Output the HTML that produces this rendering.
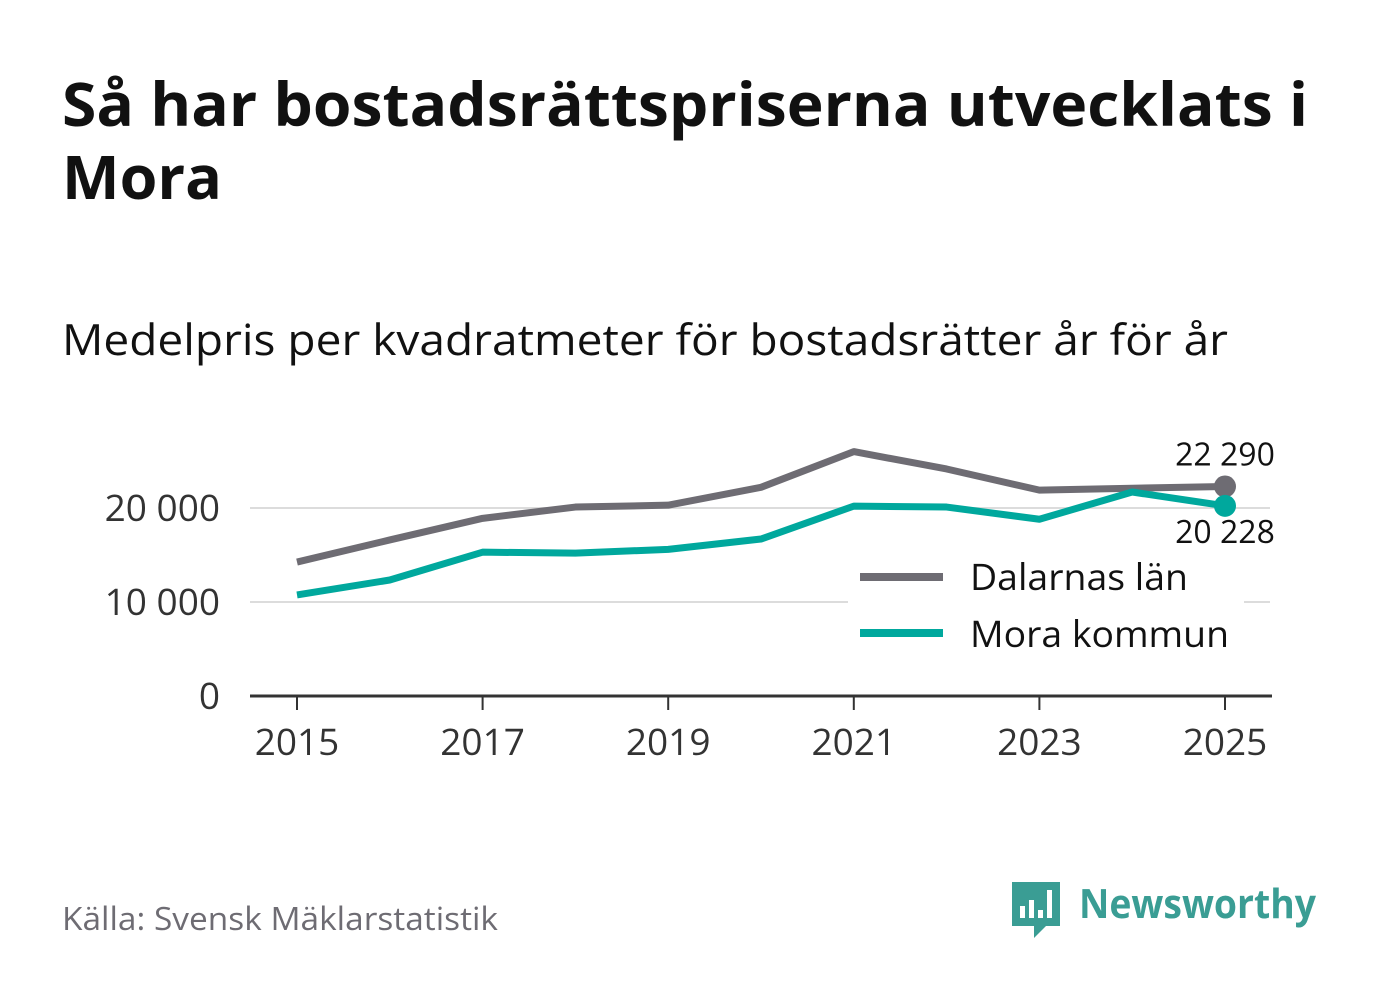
<!DOCTYPE html>
<html><head><meta charset="utf-8"><style>
body{margin:0;background:#fff;font-family:"Open Sans","DejaVu Sans","Liberation Sans",sans-serif;}
svg text{font-family:"Open Sans","DejaVu Sans","Liberation Sans",sans-serif;}
</style></head><body>
<svg width="1382" height="999" viewBox="0 0 1382 999">
<rect width="1382" height="999" fill="#fff"/>
<text x="62" y="126" font-size="60" font-weight="bold" fill="#111" textLength="1246" lengthAdjust="spacingAndGlyphs">Så har bostadsrättspriserna utvecklats i</text>
<text x="62" y="199" font-size="60" font-weight="bold" fill="#111" textLength="160" lengthAdjust="spacingAndGlyphs">Mora</text>
<text x="62" y="355" font-size="43" fill="#111" textLength="1166" lengthAdjust="spacingAndGlyphs">Medelpris per kvadratmeter för bostadsrätter år för år</text>
<g id="grid"></g>
<g id="lines"></g>
<g id="xaxis"></g>
<g>
<rect x="848" y="550" width="396" height="120" fill="#fff"/>
<line x1="860" y1="577" x2="943" y2="577" stroke="#6e6c73" stroke-width="8"/>
<text x="970" y="590" font-size="37" fill="#111" textLength="218" lengthAdjust="spacingAndGlyphs">Dalarnas län</text>
<line x1="860" y1="633" x2="943" y2="633" stroke="#00a89d" stroke-width="8"/>
<text x="970" y="647" font-size="37" fill="#111" textLength="259" lengthAdjust="spacingAndGlyphs">Mora kommun</text>
</g>
<text x="62" y="930" font-size="32" fill="#6e6c73" textLength="436" lengthAdjust="spacingAndGlyphs">Källa: Svensk Mäklarstatistik</text>
<g>
<path d="M1012 882 h48 v44 h-14 l-12 12 v-12 h-22 z" fill="#3a9d94"/>
<rect x="1020" y="906" width="5" height="12" fill="#fff"/><rect x="1029" y="900" width="5" height="18" fill="#fff"/><rect x="1038" y="910" width="5" height="8" fill="#fff"/><rect x="1047" y="890" width="5" height="28" fill="#fff"/>
<text x="1079" y="918" font-size="40" font-weight="bold" fill="#3a9d94" textLength="237" lengthAdjust="spacingAndGlyphs">Newsworthy</text>
</g>
</svg>
<script>
const years=[2015,2016,2017,2018,2019,2020,2021,2022,2023,2024,2025];
const dalarna=[14250,16600,18900,20100,20300,22200,26000,24150,21900,22100,22290];
const mora=[10750,12340,15300,15200,15600,16700,20200,20100,18800,21700,20228];
const yTicks=[0,10000,20000];
const yTickLabels=["0","10 000","20 000"];
const xTicks=[2015,2017,2019,2021,2023,2025];
const NS="http://www.w3.org/2000/svg";
const x=v=>297+(v-2015)*92.8;
const y=v=>696-v*0.0094;
function mk(t,a,p){const e=document.createElementNS(NS,t);for(const k in a)e.setAttribute(k,a[k]);p.appendChild(e);return e;}
const grid=document.getElementById('grid');
yTicks.forEach((t,i)=>{
 if(t>0){const l=mk('line',{x1:250,x2:1270,y1:y(t),y2:y(t),stroke:'#dcdcdc','stroke-width':2},grid);
 
 }
 const tx=mk('text',{x:220,y:y(t)+13,'font-size':37,fill:'#333','text-anchor':'end'},grid);tx.textContent=yTickLabels[i];
 
 
});
const xa=document.getElementById('xaxis');
const ax=mk('line',{x1:250,x2:1272,y1:696,y2:696,stroke:'#333','stroke-width':3},xa);


xTicks.forEach(t=>{
 mk('line',{x1:x(t),x2:x(t),y1:696,y2:710,stroke:'#333','stroke-width':2},xa);
 const tx=mk('text',{x:x(t),y:755,'font-size':37,fill:'#333','text-anchor':'middle'},xa);tx.textContent=t;
 
 
});
const lg=document.getElementById('lines');
function series(vals,color,name){
 const p=mk('polyline',{points:vals.map((v,i)=>x(years[i])+','+y(v)).join(' '),fill:'none',stroke:color,'stroke-width':7,'stroke-linejoin':'round'},lg);
 
 
 const n=vals.length-1;
 const c=mk('circle',{cx:x(years[n]),cy:y(vals[n]),r:11,fill:color},lg);
 
 
}
series(dalarna,'#6e6c73','dalarna');
series(mora,'#00a89d','mora');
const fmt=v=>String(v).replace(/\B(?=(\d{3})+(?!\d))/g,' ');
const l1=mk('text',{x:1225,y:y(dalarna[10])-21,'font-size':32,fill:'#111','text-anchor':'middle'},lg);l1.textContent=fmt(dalarna[10]);


const l2=mk('text',{x:1225,y:y(mora[10])+37,'font-size':32,fill:'#111','text-anchor':'middle'},lg);l2.textContent=fmt(mora[10]);


</script>
</body></html>
